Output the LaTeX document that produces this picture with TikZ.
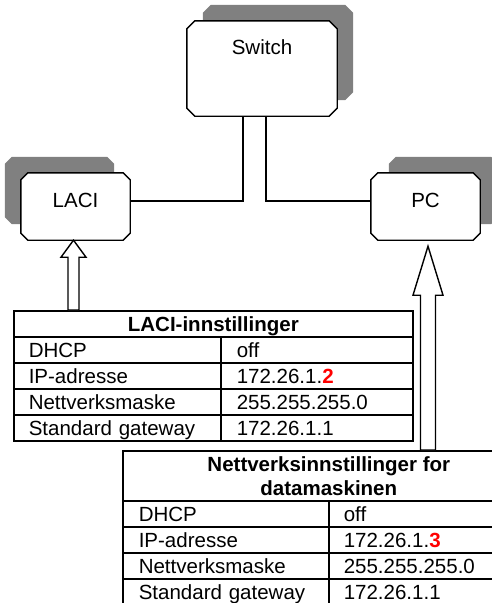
\documentclass[tikz,border=0pt]{standalone}
\usepackage{fontspec}
\setmainfont{Liberation Sans}
\usetikzlibrary{calc}
\pgfdeclarelayer{background}
\pgfsetlayers{background,main}
\definecolor{shd}{RGB}{128,128,128}
\newcommand\chbox[3]{($(#1.north west)+(#2,0)+(#3)$) -- ($(#1.north east)+(-#2,0)+(#3)$) -- ($(#1.north east)+(0,#2)+(#3)$) -- ($(#1.south east)+(0,-#2)+(#3)$) -- ($(#1.south east)+(-#2,0)+(#3)$) -- ($(#1.south west)+(#2,0)+(#3)$) -- ($(#1.south west)+(0,-#2)+(#3)$) -- ($(#1.north west)+(0,#2)+(#3)$) -- cycle}
\begin{document}
\begin{tikzpicture}[x=1pt,y=-1pt,
  every node/.style={font=\fontsize{20.5}{24}\selectfont, inner sep=0pt},
  dev/.style={rectangle, text height=15pt},
  boxline/.style={draw=black, fill=white, line width=1.4pt, line join=round},
  conn/.style={line width=1.6pt},
  harrow/.style={draw=black, fill=white, line width=1.4pt, line join=miter},
  cell/.style={draw, line width=1.6pt, rectangle, minimum height=26pt, text height=19pt, text depth=4.3pt, align=left, anchor=north west},
  lab1/.style={cell, text width=177pt, inner xsep=15pt},
  val1/.style={cell, text width=160pt, inner xsep=16pt},
  lab2/.style={cell, text width=174pt, inner xsep=16pt},
  val2/.style={cell, text width=176pt, inner xsep=15pt},
  hdr1/.style={draw, line width=1.6pt, rectangle, minimum width=399pt, minimum height=26pt, text height=19pt, text depth=4.3pt, anchor=north west, font=\fontsize{20.5}{24}\selectfont\bfseries},
  hdr2/.style={draw, line width=1.6pt, rectangle, minimum width=412pt, minimum height=50pt, align=center, anchor=north west, font=\fontsize{20.5}{24}\selectfont\bfseries},
  ]
\path[use as bounding box] (0,0) rectangle (492,603);
\clip (0,0) rectangle (492,603);

% devices
\node[dev, minimum width=150pt, minimum height=95pt, text depth=43.3pt] (sw) at (262,68.5) {Switch};
\node[dev, minimum width=109pt, minimum height=67pt, text depth=13.3pt] (laci) at (75.5,206.5) {LACI};
\node[dev, minimum width=109pt, minimum height=67pt, text depth=13.3pt] (pc) at (425.5,206.5) {PC};

\begin{pgfonlayer}{background}
\fill[shd] \chbox{sw}{8}{16,-16};
\fill[shd] \chbox{laci}{7}{-16,-16};
\fill[shd] \chbox{pc}{7}{18,-16};
\draw[boxline] \chbox{sw}{8}{0,0};
\draw[boxline] \chbox{laci}{7}{0,0};
\draw[boxline] \chbox{pc}{7}{0,0};
\end{pgfonlayer}

% connectors
\draw[conn] ([xshift=-19pt]sw.south) |- ([yshift=5.5pt]laci.east);
\draw[conn] ([xshift=4pt]sw.south) |- ([yshift=5.5pt]pc.west);

% table 1
\node[hdr1] (t1h) at (13,310) {LACI-innstillinger};
\node[lab1] (t1a1) at (13,336) {DHCP};
\node[val1] (t1b1) at (220,336) {off};
\node[lab1] (t1a2) at (13,362) {IP-adresse};
\node[val1] (t1b2) at (220,362) {172.26.1.\textcolor{red}{\bfseries 2}};
\node[lab1] (t1a3) at (13,388) {Nettverksmaske};
\node[val1] (t1b3) at (220,388) {255.255.255.0};
\node[lab1] (t1a4) at (13,414) {Standard gateway};
\node[val1] (t1b4) at (220,414) {172.26.1.1};

% table 2
\node[hdr2] (t2h) at (122,450) {Nettverksinnstillinger for\\datamaskinen};
\node[lab2] (t2a1) at (122,500) {DHCP};
\node[val2] (t2b1) at (328,500) {off};
\node[lab2] (t2a2) at (122,526) {IP-adresse};
\node[val2] (t2b2) at (328,526) {172.26.1.\textcolor{red}{\bfseries 3}};
\node[lab2] (t2a3) at (122,552) {Nettverksmaske};
\node[val2] (t2b3) at (328,552) {255.255.255.0};
\node[lab2] (t2a4) at (122,578) {Standard gateway};
\node[val2] (t2b4) at (328,578) {172.26.1.1};

% hollow arrows
\coordinate (a1tip) at ([xshift=-2pt]laci.south);
\coordinate (a1tail) at (a1tip |- t1h.north);
\draw[harrow] (a1tip) -- ($(a1tip)+(12.5,17)$) -- ($(a1tip)+(5.5,17)$) -- ($(a1tail)+(5.5,0)$) -- ($(a1tail)+(-5.5,0)$) -- ($(a1tip)+(-5.5,17)$) -- ($(a1tip)+(-12.5,17)$) -- cycle;

\coordinate (a2tip) at ([xshift=2.5pt,yshift=-6pt]pc.south);
\coordinate (a2tail) at (a2tip |- t2h.north);
\draw[harrow] (a2tip) -- ($(a2tip)+(15,49)$) -- ($(a2tip)+(7.5,49)$) -- ($(a2tail)+(7.5,0)$) -- ($(a2tail)+(-7.5,0)$) -- ($(a2tip)+(-7.5,49)$) -- ($(a2tip)+(-15,49)$) -- cycle;
\end{tikzpicture}
\end{document}
